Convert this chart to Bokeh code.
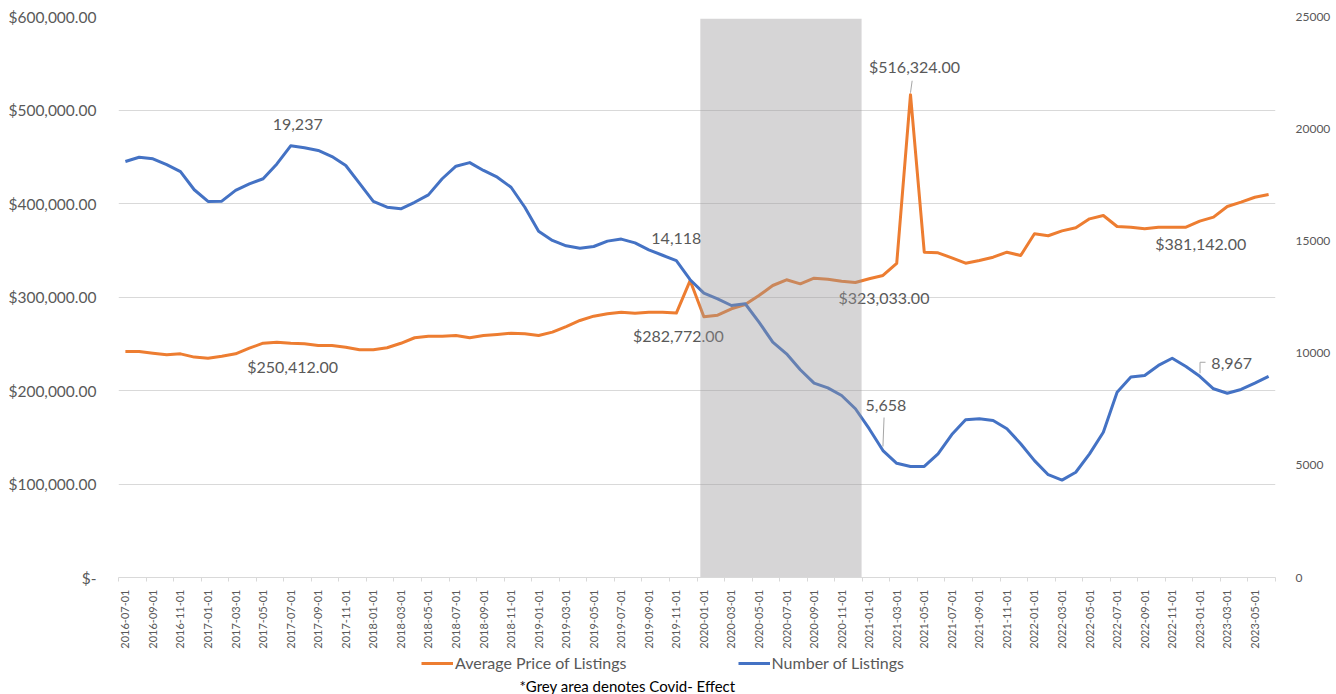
import math
from bokeh.plotting import figure
from bokeh.layouts import column
from bokeh.models import (Range1d, LinearAxis, FixedTicker, Legend, LegendItem,
                          Label, ColumnDataSource)
from bokeh.core.properties import value
from bokeh.embed import file_html
from bokeh.resources import INLINE

# ---------------- data ----------------
months = [
    "2016-07-01", "2016-08-01", "2016-09-01", "2016-10-01", "2016-11-01", "2016-12-01",
    "2017-01-01", "2017-02-01", "2017-03-01", "2017-04-01", "2017-05-01", "2017-06-01",
    "2017-07-01", "2017-08-01", "2017-09-01", "2017-10-01", "2017-11-01", "2017-12-01",
    "2018-01-01", "2018-02-01", "2018-03-01", "2018-04-01", "2018-05-01", "2018-06-01",
    "2018-07-01", "2018-08-01", "2018-09-01", "2018-10-01", "2018-11-01", "2018-12-01",
    "2019-01-01", "2019-02-01", "2019-03-01", "2019-04-01", "2019-05-01", "2019-06-01",
    "2019-07-01", "2019-08-01", "2019-09-01", "2019-10-01", "2019-11-01", "2019-12-01",
    "2020-01-01", "2020-02-01", "2020-03-01", "2020-04-01", "2020-05-01", "2020-06-01",
    "2020-07-01", "2020-08-01", "2020-09-01", "2020-10-01", "2020-11-01", "2020-12-01",
    "2021-01-01", "2021-02-01", "2021-03-01", "2021-04-01", "2021-05-01", "2021-06-01",
    "2021-07-01", "2021-08-01", "2021-09-01", "2021-10-01", "2021-11-01", "2021-12-01",
    "2022-01-01", "2022-02-01", "2022-03-01", "2022-04-01", "2022-05-01", "2022-06-01",
    "2022-07-01", "2022-08-01", "2022-09-01", "2022-10-01", "2022-11-01", "2022-12-01",
    "2023-01-01", "2023-02-01", "2023-03-01", "2023-04-01", "2023-05-01", "2023-06-01",
]

avg_price = [
    241700, 241700, 239900, 238200, 239200, 235700, 234600, 236700, 239200, 245300,
    250600, 251700, 250412, 249900, 248100, 248100, 246300, 243500, 243500, 245700,
    250500, 256400, 258100, 258100, 258800, 256400, 258800, 259900, 261300, 260600,
    258800, 262400, 268400, 274900, 279500, 282000, 283700, 282700, 283700, 283700,
    282772, 317600, 278800, 280500, 287400, 292000, 301600, 312300, 318400, 314100,
    320100, 319000, 316900, 315500, 319500, 323033, 336000, 516324, 347900, 347200,
    341900, 336200, 339000, 342600, 347900, 344400, 367600, 365500, 370700, 374000,
    383600, 387200, 375400, 374700, 372900, 374700, 374700, 374700, 381142, 385400,
    396800, 401400, 406700, 409600,
]

num_listings = [
    18540, 18730, 18660, 18400, 18090, 17280, 16760, 16770, 17250, 17540,
    17770, 18430, 19237, 19150, 19030, 18760, 18360, 17560, 16760, 16500,
    16430, 16720, 17050, 17770, 18330, 18490, 18140, 17840, 17390, 16500,
    15430, 15020, 14780, 14670, 14750, 14990, 15080, 14910, 14600, 14360,
    14118, 13270, 12670, 12420, 12120, 12200, 11380, 10490, 9970, 9260,
    8660, 8450, 8110, 7520, 6630, 5658, 5090, 4950, 4950, 5510,
    6370, 7030, 7070, 7000, 6630, 5960, 5210, 4580, 4340, 4690,
    5510, 6470, 8260, 8930, 9000, 9450, 9770, 9400, 8967, 8410,
    8210, 8380, 8660, 8960,
]

price_label_months = ["2017-07-01", "2019-11-01", "2021-02-01", "2021-04-01", "2023-01-01"]
count_label_months = ["2017-07-01", "2019-11-01", "2021-02-01", "2023-01-01"]

price_ticks = [0, 100000, 200000, 300000, 400000, 500000, 600000]
price_tick_labels = ["$-", "$100,000.00", "$200,000.00", "$300,000.00",
                     "$400,000.00", "$500,000.00", "$600,000.00"]
count_ticks = [0, 5000, 10000, 15000, 20000, 25000]

series_names = ["Average Price of Listings", "Number of Listings"]
covid_first = "2020-01-01"
covid_last = "2020-12-01"
footnote = "*Grey area denotes Covid- Effect"

# ---------------- styles / layout ----------------
ORANGE = "#ED7D31"
BLUE = "#4472C4"
GREY_TXT = "#595959"
GRID = "#D9D9D9"
FONT = "Lato"

W = 1336
H_MAIN = 652
H_FOOT = 42
BL, BR = 118, 61
FRAME_W = W - BL - BR
PRICE_PER_PX = 600000 / 561.0
COUNT_PER_PX = 25000 / 561.0

idx = list(range(len(months)))

p = figure(width=W, height=H_MAIN, x_range=Range1d(-0.5, len(months) - 0.5),
           y_range=Range1d(0, 600000), output_backend="svg", toolbar_location=None,
           min_border_left=BL, min_border_right=BR, min_border_top=16,
           min_border_bottom=75)
p.extra_y_ranges = {"count": Range1d(0, 25000)}
p.outline_line_color = None
p.background_fill_color = "white"
p.border_fill_color = "white"

# x axis
xa = p.xaxis[0]
xa.ticker = FixedTicker(ticks=list(range(0, len(months), 2)),
                        minor_ticks=[i - 0.5 for i in range(0, len(months) + 1, 2)])
xa.major_label_overrides = {i: months[i] for i in range(0, len(months), 2)}
xa.major_label_orientation = math.pi / 2
xa.major_label_text_font = FONT
xa.major_label_text_font_size = "11px"
xa.major_label_text_color = GREY_TXT
xa.major_label_standoff = 8
xa.major_tick_out = 0
xa.major_tick_in = 0
xa.minor_tick_out = 4
xa.minor_tick_in = 0
xa.minor_tick_line_color = GRID
xa.axis_line_color = GRID
p.xgrid.visible = False

# left axis
ya = p.yaxis[0]
ya.ticker = FixedTicker(ticks=price_ticks)
ya.major_label_overrides = {t: s for t, s in zip(price_ticks, price_tick_labels)}
ya.major_label_text_font = FONT
ya.major_label_text_font_size = "15.5px"
ya.major_label_text_color = GREY_TXT
ya.major_label_standoff = 16
ya.major_tick_line_color = None
ya.minor_tick_line_color = None
ya.axis_line_color = None
p.ygrid.ticker = FixedTicker(ticks=price_ticks)
p.ygrid.grid_line_color = GRID
p.ygrid.grid_line_width = 1

# right axis
ra = LinearAxis(y_range_name="count", ticker=FixedTicker(ticks=count_ticks))
ra.major_label_text_font = FONT
ra.major_label_text_font_size = "12px"
ra.major_label_text_color = GREY_TXT
ra.major_label_standoff = 14
ra.major_tick_line_color = None
ra.minor_tick_line_color = None
ra.axis_line_color = None
p.add_layout(ra, "right")

# lines
r_price = p.line(idx, avg_price, line_color=ORANGE, line_width=3, line_join="round")
r_count = p.line(idx, num_listings, line_color=BLUE, line_width=3, line_join="round",
                 y_range_name="count")

# data labels
p_off = {"2017-07-01": (2, 23), "2019-11-01": (2, 22), "2021-02-01": (1, 22),
         "2021-04-01": (4, -28), "2023-01-01": (1, 22)}
c_off = {"2017-07-01": (7, -21), "2019-11-01": (0, -22), "2021-02-01": (3, -45),
         "2023-01-01": (32, -13)}

pi_ = [months.index(m) for m in price_label_months]
psrc = ColumnDataSource(dict(
    x=pi_, y=[avg_price[i] for i in pi_],
    t=["${:,.2f}".format(avg_price[i]) for i in pi_],
    dx=[p_off[m][0] for m in price_label_months],
    dy=[p_off[m][1] for m in price_label_months]))
p.text(x="x", y="y", text="t", x_offset="dx", y_offset="dy", source=psrc,
       text_align="center", text_baseline="middle", text_font=value(FONT),
       text_font_size="16px", text_color=GREY_TXT)

ci_ = [months.index(m) for m in count_label_months]
csrc = ColumnDataSource(dict(
    x=ci_, y=[num_listings[i] for i in ci_],
    t=["{:,}".format(num_listings[i]) for i in ci_],
    dx=[c_off[m][0] for m in count_label_months],
    dy=[c_off[m][1] for m in count_label_months]))
p.text(x="x", y="y", text="t", x_offset="dx", y_offset="dy", source=csrc,
       text_align="center", text_baseline="middle", text_font=value(FONT),
       text_font_size="16px", text_color=GREY_TXT, y_range_name="count")

# leader lines (pixel offsets converted to data units)
i_peak = months.index("2021-04-01")
p.segment(x0=[i_peak + 0.0], y0=[avg_price[i_peak] + 2 * PRICE_PER_PX],
          x1=[i_peak + 0.12], y1=[avg_price[i_peak] + 14 * PRICE_PER_PX],
          line_color="#A6A6A6", line_width=1)
i_low = months.index("2021-02-01")
p.segment(x0=[i_low + 0.0], y0=[num_listings[i_low] + 4 * COUNT_PER_PX],
          x1=[i_low + 0.08], y1=[num_listings[i_low] + 33 * COUNT_PER_PX],
          line_color="#A6A6A6", line_width=1, y_range_name="count")
i_end = months.index("2023-01-01")
p.segment(x0=[i_end + 0.02, i_end + 0.02],
          y0=[num_listings[i_end] + 3 * COUNT_PER_PX, num_listings[i_end] + 14 * COUNT_PER_PX],
          x1=[i_end + 0.02, i_end + 0.42],
          y1=[num_listings[i_end] + 14 * COUNT_PER_PX, num_listings[i_end] + 14 * COUNT_PER_PX],
          line_color="#A6A6A6", line_width=1, y_range_name="count")

# covid shading (on top)
c0 = months.index(covid_first)
c1 = months.index(covid_last)
p.quad(left=[c0 - 0.26], right=[c1 + 0.45], bottom=[0], top=[597500],
       fill_color="#999798", fill_alpha=0.4, line_color=None)

# ---------------- legend + footnote strip (frame aligned with main plot) ----------------
f = figure(width=W, height=H_FOOT, x_range=Range1d(0, FRAME_W), y_range=Range1d(0, H_FOOT),
           output_backend="svg", toolbar_location=None,
           min_border_left=BL, min_border_right=BR, min_border_top=0, min_border_bottom=0)
f.axis.visible = False
f.grid.visible = False
f.outline_line_color = None
f.background_fill_color = "white"
f.border_fill_color = "white"
nan = float("nan")
lp = f.line([nan], [nan], line_color=ORANGE, line_width=3)
lc = f.line([nan], [nan], line_color=BLUE, line_width=3)
legend = Legend(items=[LegendItem(label=series_names[0], renderers=[lp]),
                       LegendItem(label=series_names[1], renderers=[lc])],
                orientation="horizontal", location=(421 - BL, 22),
                border_line_color=None, background_fill_alpha=0,
                label_text_font=FONT, label_text_font_size="16px",
                label_text_color=GREY_TXT, glyph_width=32, glyph_height=14,
                label_standoff=2, spacing=111, padding=0, margin=0,
                label_height=18)
f.add_layout(legend, "center")
f.add_layout(Label(x=519 - BL, y=9, text=footnote, text_font=FONT, text_font_size="15px",
                   text_color="black", text_baseline="middle", text_align="left"))

layout = column(p, f, spacing=0)
open("out.html", "w").write(file_html(layout, INLINE))
